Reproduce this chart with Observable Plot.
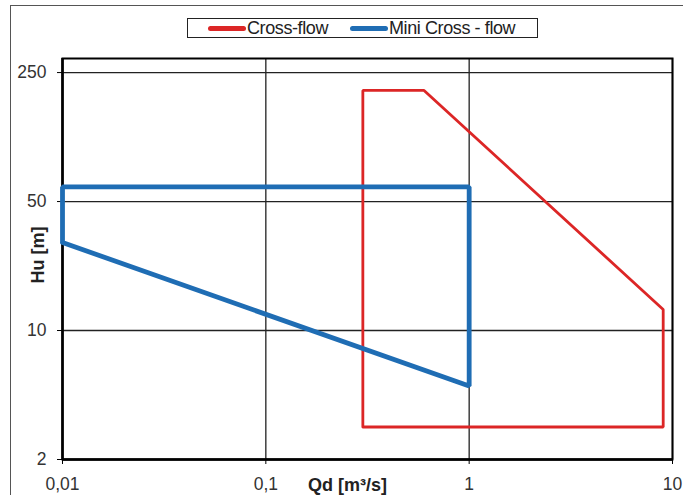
<!DOCTYPE html>
<html><head><meta charset="utf-8">
<script src="https://cdn.jsdelivr.net/npm/d3@7"></script>
<script src="https://cdn.jsdelivr.net/npm/@observablehq/plot@0.6"></script>
<style>
body{margin:0;background:#fff;font-family:"Liberation Sans",Arial,sans-serif;}
#wrap{position:relative;width:683px;height:495px;overflow:hidden;background:#fff;}
#border{position:absolute;left:10px;top:5px;width:720px;height:600px;border-left:1.5px solid #555;border-top:1.5px solid #555;pointer-events:none;}
#legend{position:absolute;left:187px;top:18px;width:349px;height:18px;border:1px solid #222;font-size:18px;color:#222;letter-spacing:-0.4px;}
.item{position:absolute;top:0;height:18px;display:flex;align-items:center;}
.sw{display:inline-block;width:38px;height:5px;border-radius:3px;margin-right:1px;}
#chart{position:absolute;left:0;top:0;}
</style></head>
<body>
<div id="wrap">
  <div id="chart"></div>
  <div id="border"></div>
  <div id="legend"></div>
</div>
<script>
const seriesNames = ["Cross-flow", "Mini Cross - flow"];
const seriesColors = ["#dc2626", "#1f6db4"];
const crossQ = [0.3, 0.3, 0.6, 9, 9, 0.3];
const crossH = [3, 200, 200, 13, 3, 3];
const miniQ = [0.01, 0.01, 1, 1, 0.01];
const miniH = [30, 60, 60, 5, 30];
const xTicks = [0.01, 0.1, 1, 10];
const xTickLabels = ["0,01", "0,1", "1", "10"];
const yTicks = [2, 10, 50, 250];
const yTickLabels = ["2", "10", "50", "250"];

const cross = crossQ.map((q, i) => ({q, h: crossH[i]}));
const mini = miniQ.map((q, i) => ({q, h: miniH[i]}));

const chart = Plot.plot({
  width: 683, height: 495,
  marginLeft: 62, marginRight: 11, marginTop: 58, marginBottom: 36,
  style: {fontFamily: '"Liberation Sans", Arial, sans-serif', background: "transparent"},
  x: {type: "log", domain: [0.01, 10]},
  y: {type: "log", domain: [2, 298]},
  marks: [
    Plot.gridX(xTicks, {stroke: "#222", strokeOpacity: 1, strokeWidth: 1.3}),
    Plot.gridY(yTicks, {stroke: "#222", strokeOpacity: 1, strokeWidth: 1.3}),
    Plot.frame({stroke: "#000", strokeWidth: 2}),
    Plot.ruleX([0.01], {stroke: "#000", strokeWidth: 2.5}),
    Plot.ruleY([2], {stroke: "#000", strokeWidth: 2.5}),
    Plot.axisX(xTicks, {tickFormat: d => xTickLabels[xTicks.indexOf(d)], tickSize: 5, tickPadding: 13, fontSize: 17.5, fill: "#333", label: null}),
    Plot.axisY(yTicks, {tickFormat: d => yTickLabels[yTicks.indexOf(d)], tickSize: 5, tickPadding: 11, fontSize: 17.5, fill: "#333", label: null}),
    Plot.line(cross, {x: "q", y: "h", stroke: seriesColors[0], strokeWidth: 2.8, strokeLinejoin: "miter"}),
    Plot.line(mini, {x: "q", y: "h", stroke: seriesColors[1], strokeWidth: 4.8, strokeLinejoin: "miter"}),
    Plot.text(["Qd [m³/s]"], {frameAnchor: "bottom", textAnchor: "middle", lineAnchor: "middle", dx: -20, dy: 26, fontSize: 18, fontWeight: "bold", fill: "#222"}),
    Plot.text(["Hu [m]"], {frameAnchor: "left", textAnchor: "middle", lineAnchor: "middle", dx: -24, dy: -4, rotate: -90, fontSize: 18, fontWeight: "bold", fill: "#222"})
  ]
});
document.getElementById("chart").appendChild(chart);

const legend = document.getElementById("legend");
const lefts = [20, 162];
seriesNames.forEach((name, i) => {
  const it = document.createElement("div");
  it.className = "item";
  it.style.left = lefts[i] + "px";
  const sw = document.createElement("span");
  sw.className = "sw";
  sw.style.background = seriesColors[i];
  it.appendChild(sw);
  const t = document.createElement("span");
  t.textContent = name;
  it.appendChild(t);
  legend.appendChild(it);
});
</script>
</body></html>
